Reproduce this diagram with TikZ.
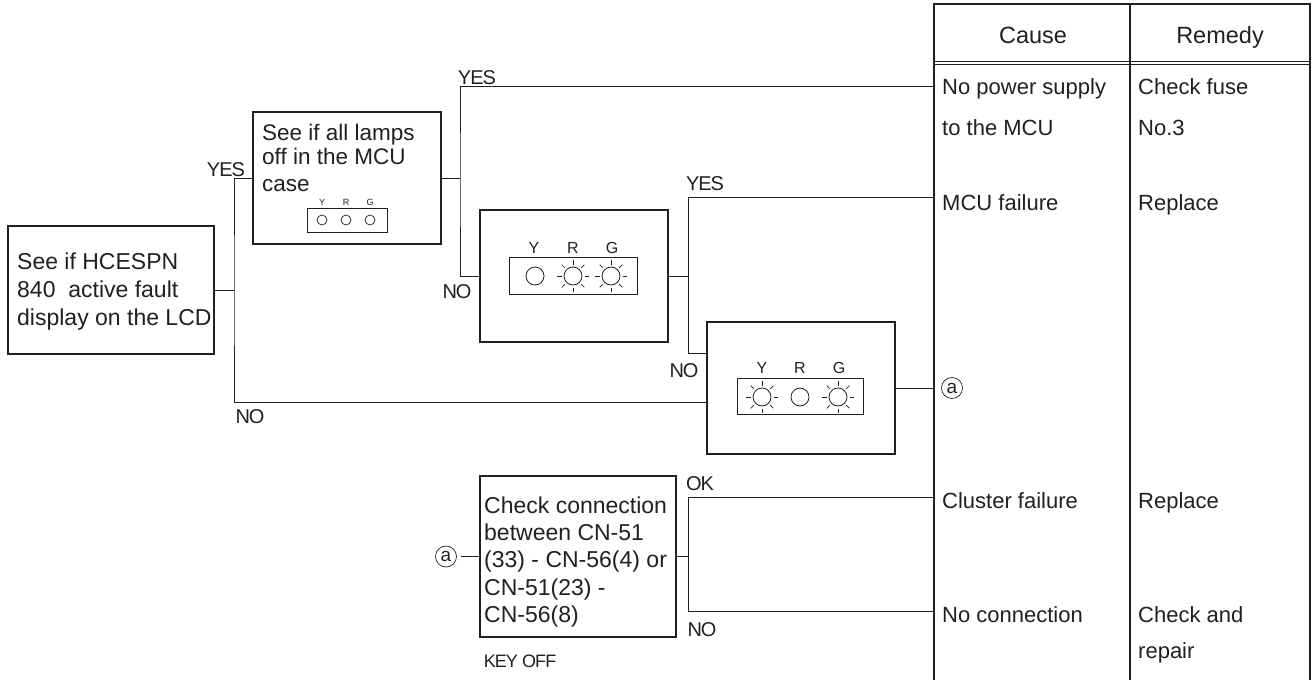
\documentclass[tikz,border=0pt]{standalone}
\usepackage{fontspec}
\setmainfont{Liberation Sans}
\newfontfamily\condfont[LetterSpace=-5]{Liberation Sans}
\definecolor{ink}{HTML}{231F20}
\begin{document}
\begin{tikzpicture}[x=1pt,y=-1pt,
  box/.style={draw=ink,line width=1.3pt,rectangle,inner sep=0pt},
  conn/.style={draw=ink,line width=0.9pt},
  tab/.style={draw=ink,line width=1.3pt},
  txt/.style={inner sep=0pt,anchor=base west,text=ink,font=\fontsize{23}{23}\selectfont},
  txtb/.style={txt,font=\fontsize{22.5}{22.5}\selectfont},
  ttx/.style={txt,font=\fontsize{22}{22}\selectfont},
  hdr/.style={inner sep=0pt,anchor=base,text=ink,font=\fontsize{23.5}{23.5}\selectfont},
  lab/.style={inner sep=0pt,text=ink,font=\fontsize{20}{20}\condfont},
  lamplab/.style={inner sep=0pt,anchor=base,text=ink,font=\fontsize{16}{16}\selectfont},
  smalllab/.style={inner sep=0pt,anchor=base,text=ink,font=\fontsize{9}{9}\selectfont},
  circa/.style={circle,draw=ink,line width=0.7pt,inner sep=0pt,minimum size=21pt,text=ink,font=\fontsize{19}{19}\selectfont},
  lampline/.style={draw=ink,line width=0.8pt},
  rayline/.style={draw=ink,line width=0.7pt},
  lampoff/.pic={\draw[lampline] (0,0) circle[radius=9pt];},
  lampon/.pic={\draw[lampline] (0,0) circle[radius=9pt];
    \foreach \a in {0,45,...,315}{\draw[rayline] (\a:11.5pt) -- (\a:16pt);}}
]
\useasboundingbox (0,0) rectangle (1316,680);

% ---------------- table ----------------
\draw[tab] (934,680) -- (934,4) -- (1310,4) -- (1310,680);
\draw[tab] (1130,4) -- (1130,680);
\draw[draw=ink,line width=0.8pt] (934,61) -- (1310,61);
\draw[draw=ink,line width=0.8pt] (934,64.5) -- (1310,64.5);
\node[hdr] (hcause) at (1033,43) {Cause};
\node[hdr] (hremedy) at (1220,43) {Remedy};

\node[ttx] (c1a) at (942,94) {No power supply};
\node[ttx] (c1b) at (942,135) {to the MCU};
\node[ttx] (r1a) at (1138,94) {Check fuse};
\node[ttx] (r1b) at (1138,135) {No.3};
\node[ttx] (c2) at (942,210) {MCU failure};
\node[ttx] (r2) at (1138,210) {Replace};
\node[circa] (ca1) at (952,388) {a};
\node[ttx] (c4) at (942,508) {Cluster failure};
\node[ttx] (r4) at (1138,508) {Replace};
\node[ttx] (c5) at (942,622) {No connection};
\node[ttx] (r5a) at (1138,622) {Check and};
\node[ttx] (r5b) at (1138,658) {repair};

% ---------------- boxes ----------------
\node[box,minimum width=206pt,minimum height=128pt] (boxA) at (111,290) {};
\node[txt] (a1) at (17,269) {See if HCESPN};
\node[txt] (a2) at (17,297) {840\ \ active fault};
\node[txt] (a3) at (17,325) {display on the LCD};

\node[box,minimum width=188pt,minimum height=132pt] (boxB) at (347,178) {};
\node[txtb] (b1) at (262,140) {See if all lamps};
\node[txtb] (b2) at (262,164) {off in the MCU};
\node[txtb] (b3) at (262,191) {case};
\draw[draw=ink,line width=0.9pt] (307,208) rectangle (387,232);
\foreach \x in {322,346,370}{\draw[draw=ink,line width=0.7pt] (\x,220) circle[radius=5pt];}
\node[smalllab] (bY) at (322,205) {Y};
\node[smalllab] (bR) at (346,205) {R};
\node[smalllab] (bG) at (370,205) {G};

\node[box,minimum width=188pt,minimum height=132pt] (boxC) at (574,276) {};
\draw[draw=ink,line width=1pt] (509,257) rectangle (637,294);
\pic at (535,276) {lampoff};
\pic at (573,276) {lampon};
\pic at (611,276) {lampon};
\node[lamplab] (cY) at (534,253) {Y};
\node[lamplab] (cR) at (573,253) {R};
\node[lamplab] (cG) at (612,253) {G};

\node[box,minimum width=188pt,minimum height=132pt] (boxD) at (801,388) {};
\draw[draw=ink,line width=1pt] (737,378) rectangle (863,414);
\pic at (762,397) {lampon};
\pic at (800,397) {lampoff};
\pic at (838,397) {lampon};
\node[lamplab] (dY) at (762,373) {Y};
\node[lamplab] (dR) at (800,373) {R};
\node[lamplab] (dG) at (839,373) {G};

\node[box,minimum width=196pt,minimum height=161pt] (boxE) at (578,556.5) {};
\node[txt] (e1) at (484,513) {Check connection};
\node[txt] (e2) at (484,540) {between CN-51};
\node[txt] (e3) at (484,567) {(33) - CN-56(4) or};
\node[txt] (e4) at (484,595) {CN-51(23) -};
\node[txt] (e5) at (484,622) {CN-56(8)};
\node[circa] (ca2) at (446,556.5) {a};

% ---------------- connectors ----------------
\coordinate (j1) at (234,290);
\coordinate (nA) at (707,402);
\coordinate (j2) at (460,178);
\coordinate (t1) at (934,86);
\coordinate (j3) at (688,276);
\coordinate (t2) at (934,197);
\coordinate (d1) at (707,353);
\coordinate (t3) at (934,388);
\coordinate (j4) at (688,556.5);
\coordinate (t4) at (934,497);
\coordinate (t5) at (934,611);

\draw[conn] (boxA.east) -- (j1);
\draw[conn] (boxB.west) -| (j1) |- (nA);
\draw[conn] (boxB.east) -- (j2);
\draw[conn] (t1) -| (j2) |- (boxC.west);
\draw[conn] (boxC.east) -- (j3);
\draw[conn] (t2) -| (j3) |- (d1);
\draw[conn] (boxD.east) -- (t3);
\draw[conn,shorten <=4pt] (ca2) -- (boxE.west);
\draw[conn] (boxE.east) -- (j4);
\draw[conn] (t4) -| (j4) |- (t5);

% ---------------- labels ----------------
\node[lab] (yes1) at (226,170) {YES};
\node[lab] (no1) at (250,417) {NO};
\node[lab] (yes2) at (477,78) {YES};
\node[lab] (no2) at (457,292) {NO};
\node[lab] (yes3) at (705,184) {YES};
\node[lab] (no3) at (684,371) {NO};
\node[lab] (ok) at (700,484) {OK};
\node[lab] (no4) at (702,630) {NO};
\node[lab,font=\fontsize{18}{18}\condfont] (keyoff) at (520,661) {KEY OFF};
\end{tikzpicture}
\end{document}
